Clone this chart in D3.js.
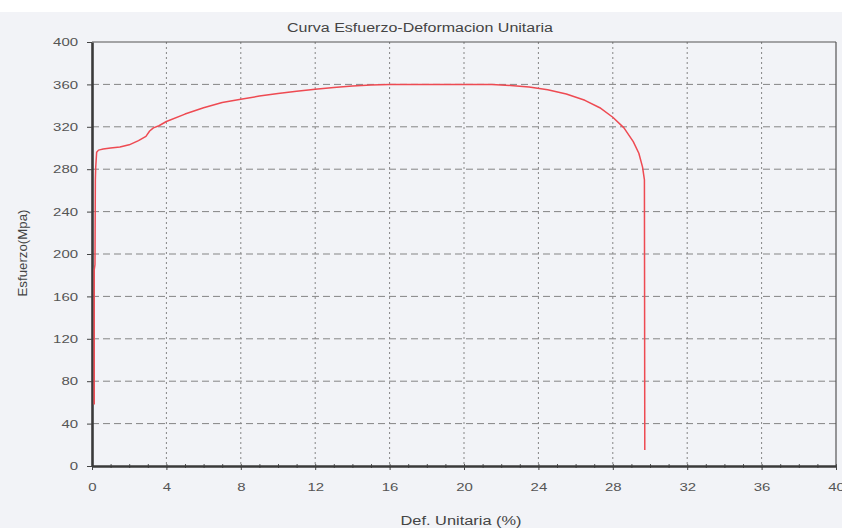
<!DOCTYPE html>
<html>
<head>
<meta charset="utf-8">
<script src="https://cdn.jsdelivr.net/npm/d3@7/dist/d3.min.js"></script>
<style>
  html, body { margin: 0; padding: 0; background: #ffffff; }
  svg { display: block; }
</style>
</head>
<body>
<div id="chart"></div>
<script>
// stress-strain readings (strain %, stress MPa)
const strain = [0.12, 0.12, 0.16, 0.18, 0.2, 0.25, 0.35, 0.6, 1.0, 1.5, 2.0, 2.5, 2.9, 3.1, 3.3, 3.6, 4.0,
  5.0, 6.0, 7.0, 8.0, 9.0, 10.0, 11.0, 12.0, 13.0, 14.0, 15.0, 16.0, 18.0, 20.0, 21.5,
  22.5, 23.5, 24.5, 25.5, 26.5, 27.3, 28.0, 28.6, 29.1, 29.4, 29.6, 29.7, 29.72];
const stress = [58, 185, 190, 270, 282, 296, 298, 299, 300, 301, 303, 307, 311, 316, 319, 321, 325,
  332, 338, 343, 346, 349, 351.5, 353.5, 355.5, 357, 358.5, 359.5, 360, 360, 360, 360,
  359, 357.5, 355, 351, 345, 338, 329, 319, 306, 295, 282, 270, 15];

const xTicks = [0, 4, 8, 12, 16, 20, 24, 28, 32, 36, 40];
const yTicks = [0, 40, 80, 120, 160, 200, 240, 280, 320, 360, 400];

const W = 842, H = 528;
const margin = { top: 42, right: 6, bottom: 62, left: 92 };
const width = 836 - margin.left;
const height = 466 - margin.top;
const font = "'Liberation Sans', Arial, sans-serif";

const svg = d3.select("#chart").append("svg")
  .attr("width", W)
  .attr("height", H)
  .style("font-family", font);

// scanned page look: white strip at top, light grey panel below
svg.append("rect").attr("x", 0).attr("y", 12).attr("width", W).attr("height", H - 12).attr("fill", "#f2f3f7");

const g = svg.append("g").attr("transform", "translate(" + margin.left + "," + margin.top + ")");

const x = d3.scaleLinear().domain([0, 40]).range([0, width]);
const y = d3.scaleLinear().domain([0, 400]).range([height, 0]);

// text in the scan is stretched sideways
function stretch(sel, k) {
  sel.each(function() {
    const w = this.getComputedTextLength();
    d3.select(this).attr("textLength", w * k).attr("lengthAdjust", "spacingAndGlyphs");
  });
}

// grid
g.append("g").selectAll("line")
  .data(yTicks.filter(d => d > 0 && d < 400))
  .enter().append("line")
  .attr("x1", 0).attr("x2", width)
  .attr("y1", d => y(d)).attr("y2", d => y(d))
  .attr("stroke", "#858585").attr("stroke-width", 1).attr("stroke-dasharray", "7,4");

g.append("g").selectAll("line")
  .data(xTicks.filter(d => d > 0 && d < 40))
  .enter().append("line")
  .attr("x1", d => x(d)).attr("x2", d => x(d))
  .attr("y1", 0).attr("y2", height)
  .attr("stroke", "#858585").attr("stroke-width", 1).attr("stroke-dasharray", "2,3");

// frame top/right
g.append("line").attr("x1", 0).attr("x2", width).attr("y1", 0).attr("y2", 0)
  .attr("stroke", "#555").attr("stroke-width", 1.2);
g.append("line").attr("x1", width).attr("x2", width).attr("y1", 0).attr("y2", height)
  .attr("stroke", "#555").attr("stroke-width", 1.2);

// minor ticks on x
const xMinor = d3.axisBottom(x).ticks(40).tickSize(2).tickFormat("");
g.append("g").attr("transform", "translate(0," + (height - 2) + ")").call(xMinor)
  .call(s => s.select(".domain").remove())
  .selectAll("line").attr("stroke", "#555").attr("y2", 4);

// axes
const xAxis = g.append("g").attr("transform", "translate(0," + height + ")")
  .call(d3.axisBottom(x).tickValues(xTicks).tickSize(4).tickSizeOuter(0).tickPadding(13));
const yAxis = g.append("g")
  .call(d3.axisLeft(y).tickValues(yTicks).tickSize(5).tickSizeOuter(0).tickPadding(9));

[xAxis, yAxis].forEach(a => {
  a.select(".domain").attr("stroke", "#3a3a3a").attr("stroke-width", 2.6);
  a.selectAll(".tick line").attr("stroke", "#444");
  a.selectAll(".tick text").attr("fill", "#555").style("font-size", "11.5px")
    .style("font-family", font);
});
stretch(xAxis.selectAll(".tick text"), 1.3);
stretch(yAxis.selectAll(".tick text"), 1.3);

// curve
const line = d3.line().x((d, i) => x(strain[i])).y(d => y(d));
g.append("path")
  .datum(stress)
  .attr("fill", "none")
  .attr("stroke", "#ee4a52")
  .attr("stroke-width", 1.5)
  .attr("stroke-linejoin", "round")
  .attr("d", line);

// title + axis labels
svg.append("text")
  .attr("x", 420).attr("y", 32)
  .attr("text-anchor", "middle")
  .attr("fill", "#444")
  .style("font-size", "12.5px")
  .attr("textLength", 266).attr("lengthAdjust", "spacingAndGlyphs")
  .text("Curva Esfuerzo-Deformacion Unitaria");

svg.append("text")
  .attr("x", 461).attr("y", 525)
  .attr("text-anchor", "middle")
  .attr("fill", "#444")
  .style("font-size", "12px")
  .attr("textLength", 121).attr("lengthAdjust", "spacingAndGlyphs")
  .text("Def. Unitaria (%)");

svg.append("text")
  .attr("transform", "translate(27,253) rotate(-90)")
  .attr("text-anchor", "middle")
  .attr("fill", "#444")
  .style("font-size", "12px")
  .attr("textLength", 87).attr("lengthAdjust", "spacingAndGlyphs")
  .text("Esfuerzo(Mpa)");
</script>
</body>
</html>
